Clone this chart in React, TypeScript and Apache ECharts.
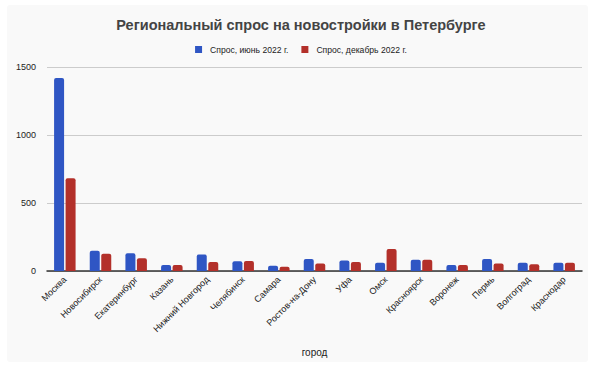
import React, { useEffect, useRef } from "react";
import * as echarts from "echarts";

const cities = [
  "Москва",
  "Новосибирск",
  "Екатеринбург",
  "Казань",
  "Нижний Новгород",
  "Челябинск",
  "Самара",
  "Ростов-на-Дону",
  "Уфа",
  "Омск",
  "Красноярск",
  "Воронеж",
  "Пермь",
  "Волгоград",
  "Краснодар",
];
const juneValues = [1420, 149, 131, 44, 121, 71, 38, 88, 77, 60, 82, 44, 88, 61, 61];
const decemberValues = [682, 126, 93, 44, 66, 73, 32, 55, 67, 162, 82, 44, 55, 50, 61];
const yTicks = { min: 0, max: 1500, interval: 500 };

const FONT = "'Liberation Sans', Arial, Helvetica, sans-serif";

export default function App() {
  const ref = useRef<HTMLDivElement>(null);
  useEffect(() => {
    document.body.style.margin = "0";
    const chart = echarts.init(ref.current!, undefined, { renderer: "svg" });
    chart.setOption({
      animation: false,
      backgroundColor: "#ffffff",
      textStyle: { fontFamily: FONT },
      graphic: [
        {
          type: "rect",
          z: -10,
          silent: true,
          shape: { x: 7, y: 5, width: 581, height: 357, r: 3 },
          style: { fill: "#f9f9f9" },
        },
      ],
      title: {
        text: "Региональный спрос на новостройки в Петербурге",
        left: "center",
        top: 12,
        textStyle: { fontFamily: FONT, fontSize: 14.5, fontWeight: "bold", color: "#444444" },
      },
      legend: {
        top: 40,
        left: "center",
        itemWidth: 7,
        itemHeight: 7,
        itemGap: 13,
        icon: "rect",
        textStyle: { fontFamily: FONT, fontSize: 8.6, color: "#222222", padding: [0, 0, 0, 3] },
        data: ["Спрос, июнь 2022 г.", "Спрос, декабрь 2022 г."],
      },
      grid: { left: 47, right: 20, top: 67, bottom: 102, containLabel: false },
      xAxis: {
        type: "category",
        data: cities,
        name: "город",
        nameLocation: "middle",
        nameGap: 76,
        nameTextStyle: { fontFamily: FONT, fontSize: 10, color: "#222222" },
        axisLine: { lineStyle: { color: "#333333", width: 1.5 } },
        axisTick: { show: false },
        axisLabel: {
          rotate: 45,
          fontSize: 9,
          color: "#222222",
          margin: 7,
          interval: 0,
          fontFamily: FONT,
        },
      },
      yAxis: {
        type: "value",
        min: yTicks.min,
        max: yTicks.max,
        interval: yTicks.interval,
        axisLine: { show: false },
        axisTick: { show: false },
        axisLabel: {
          fontSize: 9,
          color: "#222222",
          margin: 11,
          fontFamily: FONT,
          formatter: (v: number) => String(v),
        },
        splitLine: { lineStyle: { color: "#cccccc", width: 1 } },
      },
      series: [
        {
          name: "Спрос, июнь 2022 г.",
          type: "bar",
          data: juneValues,
          barWidth: 10,
          barGap: "15%",
          itemStyle: { color: "#2f56c4", borderRadius: [2, 2, 0, 0] },
        },
        {
          name: "Спрос, декабрь 2022 г.",
          type: "bar",
          data: decemberValues,
          barWidth: 10,
          itemStyle: { color: "#b3302a", borderRadius: [2, 2, 0, 0] },
        },
      ],
    });
    return () => chart.dispose();
  }, []);
  return <div ref={ref} style={{ width: 602, height: 373 }} />;
}
